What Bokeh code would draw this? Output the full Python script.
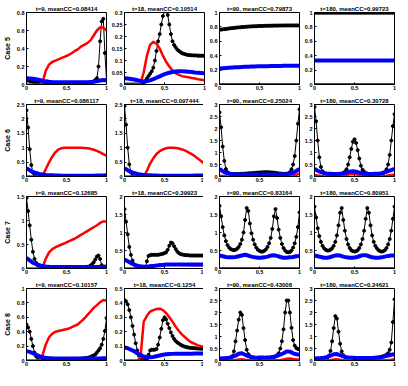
import numpy as np
from bokeh.plotting import figure
from bokeh.layouts import gridplot
from bokeh.models import Range1d, FixedTicker
from bokeh.embed import file_html
from bokeh.resources import INLINE

# sampling grids (black curve has dense markers, red/blue are thick lines)
X_BLACK = np.linspace(0, 1, 51)
X_COLOR = np.linspace(0, 1, 26)

CASES = ["Case 5", "Case 6", "Case 7", "Case 8"]
XTICKS = [0, 0.5, 1]
XTICK_LABELS = ["0", "0.5", "1"]

# ---------------- Case 5 ----------------
c5_t9_title = "t=9, meanCC=0.08414"
c5_t9_k = [0.05, 0.045, 0.04, 0.035, 0.03, 0.025, 0.02, 0.018, 0.015, 0.012, 0.01,
           0.01, 0.01, 0.01, 0.01, 0.01, 0.01, 0.01, 0.01, 0.01, 0.01,
           0.01, 0.01, 0.01, 0.01, 0.01, 0.01, 0.01, 0.01, 0.01, 0.01,
           0.011, 0.012, 0.013, 0.014, 0.015, 0.016, 0.018, 0.02, 0.022, 0.025,
           0.03, 0.035, 0.05, 0.07, 0.2, 0.48, 0.7, 0.73, 0.35, 0.05]
c5_t9_r = [0, 0, 0, 0, 0, 0.02, 0.15, 0.22, 0.25, 0.265, 0.28, 0.295, 0.31, 0.325, 0.345,
           0.37, 0.39, 0.42, 0.44, 0.46, 0.49, 0.545, 0.6, 0.635, 0.63, 0.6]
c5_t9_b = [0.07, 0.068, 0.063, 0.058, 0.05, 0.042, 0.035, 0.03, 0.027, 0.025, 0.024, 0.024, 0.024,
           0.024, 0.024, 0.024, 0.024, 0.024, 0.024, 0.024, 0.026, 0.03, 0.036, 0.045, 0.05, 0.045]
c5_t9_yt = [0, 0.2, 0.4, 0.6, 0.8]
c5_t9_yl = ["0", "0.2", "0.4", "0.6", "0.8"]

c5_t18_title = "t=18, meanCC=0.10514"
c5_t18_k = [0, 0, 0, 0, 0, 0, 0, 0, 0, 0, 0,
            0.003, 0.008, 0.015, 0.025, 0.035, 0.045, 0.055, 0.07, 0.1, 0.14,
            0.18, 0.21, 0.25, 0.285, 0.305, 0.31, 0.29, 0.25, 0.21, 0.18,
            0.165, 0.155, 0.145, 0.14, 0.135, 0.13, 0.128, 0.126, 0.124, 0.123,
            0.122, 0.122, 0.121, 0.121, 0.121, 0.12, 0.12, 0.12, 0.12, 0.12]
c5_t18_r = [0, 0, 0, 0, 0, 0.005, 0.05, 0.12, 0.165, 0.178, 0.17, 0.15, 0.12, 0.095, 0.075,
            0.058, 0.047, 0.04, 0.035, 0.032, 0.03, 0.027, 0.025, 0.022, 0.02, 0.018]
c5_t18_b = [0.026, 0.025, 0.023, 0.021, 0.018, 0.015, 0.013, 0.014, 0.017, 0.022, 0.028, 0.034, 0.04,
            0.045, 0.049, 0.052, 0.054, 0.055, 0.055, 0.054, 0.053, 0.052, 0.05, 0.049, 0.048, 0.047]
c5_t18_yt = [0, 0.05, 0.1, 0.15, 0.2, 0.25, 0.3]
c5_t18_yl = ["0", "0.05", "0.1", "0.15", "0.2", "0.25", "0.3"]

c5_t90_title = "t=90, meanCC=0.79873"
c5_t90_k = [0.76, 0.763, 0.766, 0.769, 0.772, 0.775, 0.778, 0.781, 0.784, 0.786,
            0.789, 0.791, 0.793, 0.795, 0.797, 0.799, 0.801, 0.803, 0.804, 0.806,
            0.807, 0.808, 0.809, 0.81, 0.811, 0.812, 0.813, 0.814, 0.815, 0.815,
            0.816, 0.816, 0.817, 0.817, 0.818, 0.818, 0.818, 0.819, 0.819, 0.819,
            0.82, 0.82, 0.82, 0.82, 0.82, 0.82, 0.82, 0.82, 0.82, 0.82, 0.82]
c5_t90_r = [0.004, 0.004, 0.004, 0.004, 0.004, 0.004, 0.004, 0.004, 0.004, 0.004, 0.004, 0.004, 0.004,
            0.004, 0.004, 0.004, 0.004, 0.004, 0.004, 0.004, 0.004, 0.004, 0.004, 0.004, 0.004, 0.004]
c5_t90_b = [0.222, 0.226, 0.23, 0.233, 0.236, 0.239, 0.241, 0.243, 0.245, 0.247, 0.249, 0.25, 0.252,
            0.253, 0.254, 0.255, 0.256, 0.257, 0.258, 0.258, 0.259, 0.259, 0.26, 0.26, 0.26, 0.26]
c5_t90_yt = [0, 0.2, 0.4, 0.6, 0.8, 1]
c5_t90_yl = ["0", "0.2", "0.4", "0.6", "0.8", "1"]

c5_t180_title = "t=180, meanCC=0.99723"
c5_t180_k = [0.998, 0.998, 0.998, 0.998, 0.998, 0.998, 0.998, 0.998, 0.998, 0.998,
             0.998, 0.998, 0.998, 0.998, 0.998, 0.998, 0.998, 0.998, 0.998, 0.998,
             0.998, 0.998, 0.998, 0.998, 0.998, 0.998, 0.998, 0.998, 0.998, 0.998,
             0.998, 0.998, 0.998, 0.998, 0.998, 0.998, 0.998, 0.998, 0.998, 0.998,
             0.998, 0.998, 0.998, 0.998, 0.998, 0.998, 0.998, 0.998, 0.998, 0.998, 0.998]
c5_t180_r = [0.004, 0.004, 0.004, 0.004, 0.004, 0.004, 0.004, 0.004, 0.004, 0.004, 0.004, 0.004, 0.004,
             0.004, 0.004, 0.004, 0.004, 0.004, 0.004, 0.004, 0.004, 0.004, 0.004, 0.004, 0.004, 0.004]
c5_t180_b = [0.335, 0.335, 0.335, 0.335, 0.335, 0.335, 0.335, 0.335, 0.335, 0.335, 0.335, 0.335, 0.335,
             0.335, 0.335, 0.335, 0.335, 0.335, 0.335, 0.335, 0.335, 0.335, 0.335, 0.335, 0.335, 0.335]
c5_t180_yt = [0, 0.2, 0.4, 0.6, 0.8, 1]
c5_t180_yl = ["0", "0.2", "0.4", "0.6", "0.8", "1"]

# ---------------- Case 6 ----------------
c6_t9_title = "t=9, meanCC=0.086117"
c6_t9_k = [2.3, 1.7, 0.95, 0.4, 0.14, 0.05, 0.02, 0.01, 0.005, 0.003,
           0.003, 0.003, 0.003, 0.003, 0.003, 0.003, 0.003, 0.003, 0.003, 0.003,
           0.003, 0.003, 0.003, 0.003, 0.003, 0.003, 0.003, 0.003, 0.003, 0.003,
           0.003, 0.003, 0.003, 0.003, 0.003, 0.003, 0.003, 0.003, 0.003, 0.003,
           0.003, 0.003, 0.003, 0.003, 0.003, 0.003, 0.003, 0.003, 0.003, 0.003, 0.003]
c6_t9_r = [0, 0, 0, 0, 0, 0.03, 0.25, 0.48, 0.68, 0.84, 0.94, 0.98, 1.0, 1.0, 1.0,
           1.0, 1.0, 1.0, 0.99, 0.98, 0.96, 0.93, 0.89, 0.84, 0.78, 0.72]
c6_t9_b = [0.29, 0.22, 0.16, 0.12, 0.09, 0.07, 0.055, 0.045, 0.04, 0.035, 0.032, 0.03, 0.03,
           0.03, 0.03, 0.03, 0.03, 0.03, 0.03, 0.03, 0.03, 0.03, 0.032, 0.034, 0.037, 0.04]
c6_t9_yt = [0, 0.5, 1, 1.5, 2, 2.5]
c6_t9_yl = ["0", "0.5", "1", "1.5", "2", "2.5"]

c6_t18_title = "t=18, meanCC=0.097444"
c6_t18_k = [2.45, 1.8, 1.0, 0.42, 0.15, 0.05, 0.02, 0.01, 0.005, 0.003,
            0.003, 0.003, 0.003, 0.003, 0.003, 0.003, 0.003, 0.003, 0.003, 0.003,
            0.003, 0.003, 0.003, 0.003, 0.003, 0.003, 0.003, 0.003, 0.003, 0.003,
            0.003, 0.003, 0.003, 0.003, 0.003, 0.003, 0.003, 0.003, 0.003, 0.003,
            0.003, 0.003, 0.003, 0.003, 0.003, 0.003, 0.003, 0.003, 0.003, 0.003, 0.003]
c6_t18_r = [0, 0, 0, 0, 0, 0, 0, 0.2, 0.45, 0.63, 0.78, 0.88, 0.94, 0.98, 1.0,
            1.0, 0.99, 0.97, 0.94, 0.9, 0.84, 0.78, 0.7, 0.62, 0.53, 0.44]
c6_t18_b = [0.29, 0.22, 0.16, 0.12, 0.09, 0.07, 0.055, 0.045, 0.04, 0.035, 0.032, 0.03, 0.03,
            0.03, 0.03, 0.03, 0.03, 0.03, 0.03, 0.03, 0.03, 0.03, 0.032, 0.034, 0.037, 0.04]
c6_t18_yt = [0, 0.5, 1, 1.5, 2, 2.5]
c6_t18_yl = ["0", "0.5", "1", "1.5", "2", "2.5"]

c6_t90_title = "t=90, meanCC=0.25024"
c6_t90_k = [2.68, 2.05, 1.25, 0.65, 0.31, 0.18, 0.13, 0.11, 0.1, 0.1,
            0.1, 0.1, 0.105, 0.11, 0.11, 0.115, 0.12, 0.125, 0.13, 0.135,
            0.14, 0.145, 0.15, 0.155, 0.16, 0.165, 0.17, 0.175, 0.18, 0.18,
            0.18, 0.175, 0.17, 0.165, 0.16, 0.15, 0.14, 0.13, 0.12, 0.115,
            0.11, 0.11, 0.12, 0.13, 0.18, 0.3, 0.5, 0.85, 1.5, 2.2, 2.8]
c6_t90_r = [0.03, 0.02, 0.01, 0.005, 0.003, 0.003, 0.003, 0.003, 0.003, 0.003, 0.003, 0.003, 0.003,
            0.003, 0.003, 0.003, 0.003, 0.003, 0.003, 0.003, 0.003, 0.01, 0.02, 0.04, 0.07, 0.12]
c6_t90_b = [0.32, 0.22, 0.15, 0.12, 0.1, 0.09, 0.085, 0.08, 0.08, 0.08, 0.08, 0.08, 0.08,
            0.08, 0.08, 0.08, 0.08, 0.08, 0.08, 0.085, 0.09, 0.1, 0.12, 0.16, 0.23, 0.32]
c6_t90_yt = [0, 0.5, 1, 1.5, 2, 2.5, 3]
c6_t90_yl = ["0", "0.5", "1", "1.5", "2", "2.5", "3"]

c6_t180_title = "t=180, meanCC=0.30728"
c6_t180_k = [2.9, 2.3, 1.5, 0.8, 0.4, 0.22, 0.15, 0.12, 0.1, 0.1,
             0.1, 0.1, 0.1, 0.1, 0.1, 0.1, 0.11, 0.12, 0.14, 0.2,
             0.3, 0.5, 0.8, 1.15, 1.45, 1.55, 1.4, 1.1, 0.75, 0.45,
             0.28, 0.2, 0.14, 0.12, 0.11, 0.1, 0.1, 0.1, 0.1, 0.1,
             0.1, 0.1, 0.11, 0.13, 0.18, 0.3, 0.5, 0.9, 1.5, 2.1, 2.6]
c6_t180_r = [0.06, 0.04, 0.02, 0.01, 0.005, 0.003, 0.003, 0.005, 0.01, 0.03, 0.06, 0.09, 0.1,
             0.09, 0.06, 0.03, 0.01, 0.005, 0.003, 0.003, 0.005, 0.01, 0.02, 0.04, 0.06, 0.08]
c6_t180_b = [0.32, 0.24, 0.18, 0.14, 0.12, 0.11, 0.1, 0.1, 0.11, 0.13, 0.16, 0.2, 0.22,
             0.2, 0.16, 0.13, 0.11, 0.1, 0.1, 0.11, 0.12, 0.14, 0.18, 0.22, 0.27, 0.32]
c6_t180_yt = [0, 0.5, 1, 1.5, 2, 2.5, 3]
c6_t180_yl = ["0", "0.5", "1", "1.5", "2", "2.5", "3"]

# ---------------- Case 7 ----------------
c7_t9_title = "t=9, meanCC=0.12685"
c7_t9_k = [1.47, 1.2, 0.9, 0.6, 0.35, 0.2, 0.12, 0.07, 0.045, 0.03,
           0.022, 0.02, 0.018, 0.017, 0.016, 0.015, 0.015, 0.015, 0.015, 0.015,
           0.015, 0.015, 0.015, 0.015, 0.015, 0.015, 0.015, 0.015, 0.015, 0.016,
           0.017, 0.018, 0.019, 0.02, 0.022, 0.024, 0.027, 0.03, 0.035, 0.04,
           0.06, 0.09, 0.13, 0.19, 0.25, 0.27, 0.2, 0.07, 0.02, 0.01, 0.01]
c7_t9_r = [0, 0, 0, 0, 0, 0.02, 0.2, 0.33, 0.4, 0.44, 0.47, 0.5, 0.53, 0.56, 0.59,
           0.62, 0.66, 0.7, 0.74, 0.78, 0.82, 0.86, 0.9, 0.95, 0.98, 0.98]
c7_t9_b = [0.22, 0.17, 0.12, 0.09, 0.07, 0.05, 0.04, 0.035, 0.032, 0.03, 0.03, 0.03, 0.03,
           0.03, 0.03, 0.03, 0.03, 0.03, 0.03, 0.03, 0.03, 0.03, 0.03, 0.032, 0.035, 0.04]
c7_t9_yt = [0, 0.5, 1, 1.5]
c7_t9_yl = ["0", "0.5", "1", "1.5"]

c7_t18_title = "t=18, meanCC=0.39923"
c7_t18_k = [1.65, 1.3, 0.95, 0.6, 0.38, 0.22, 0.12, 0.06, 0.03, 0.01,
            0.005, 0.003, 0.003, 0.005, 0.2, 0.35, 0.37, 0.38, 0.38, 0.38,
            0.38, 0.38, 0.39, 0.4, 0.41, 0.43, 0.45, 0.52, 0.63, 0.72,
            0.7, 0.62, 0.54, 0.47, 0.43, 0.4, 0.39, 0.38, 0.37, 0.37,
            0.37, 0.36, 0.36, 0.36, 0.36, 0.36, 0.36, 0.36, 0.36, 0.36, 0.36]
c7_t18_r = [0, 0, 0, 0, 0, 0, 0, 0.03, 0.07, 0.09, 0.1, 0.11, 0.12,
            0.12, 0.12, 0.12, 0.11, 0.11, 0.1, 0.1, 0.1, 0.09, 0.09, 0.09, 0.09, 0.09]
c7_t18_b = [0.25, 0.2, 0.15, 0.11, 0.08, 0.06, 0.05, 0.05, 0.06, 0.07, 0.08, 0.09, 0.1,
            0.11, 0.11, 0.11, 0.11, 0.11, 0.11, 0.11, 0.11, 0.11, 0.11, 0.11, 0.11, 0.11]
c7_t18_yt = [0, 0.5, 1, 1.5, 2]
c7_t18_yl = ["0", "0.5", "1", "1.5", "2"]

c7_t90_title = "t=90, meanCC=0.83164"
c7_t90_k = [1.74, 1.45, 1.15, 0.92, 0.76, 0.65, 0.58, 0.54, 0.52, 0.51,
            0.52, 0.55, 0.6, 0.68, 0.8, 1.0, 1.35, 1.68, 1.6, 1.25,
            0.98, 0.8, 0.67, 0.58, 0.52, 0.49, 0.47, 0.47, 0.49, 0.53,
            0.6, 0.7, 0.85, 1.1, 1.45, 1.65, 1.4, 1.08, 0.85, 0.68,
            0.57, 0.5, 0.46, 0.45, 0.46, 0.5, 0.58, 0.7, 0.88, 1.15, 1.56]
c7_t90_r = [0.008, 0.008, 0.008, 0.008, 0.008, 0.008, 0.008, 0.008, 0.008, 0.008, 0.008, 0.008, 0.008,
            0.008, 0.008, 0.008, 0.008, 0.008, 0.008, 0.008, 0.008, 0.008, 0.008, 0.008, 0.008, 0.008]
c7_t90_b = [0.36, 0.34, 0.32, 0.31, 0.31, 0.32, 0.34, 0.36, 0.38, 0.36, 0.33, 0.31, 0.3,
            0.3, 0.31, 0.33, 0.36, 0.37, 0.35, 0.32, 0.3, 0.3, 0.31, 0.32, 0.34, 0.35]
c7_t90_yt = [0, 0.5, 1, 1.5, 2]
c7_t90_yl = ["0", "0.5", "1", "1.5", "2"]

c7_t180_title = "t=180, meanCC=0.80951"
c7_t180_k = [1.72, 1.42, 1.12, 0.9, 0.74, 0.63, 0.56, 0.52, 0.5, 0.5,
             0.52, 0.56, 0.63, 0.74, 0.92, 1.2, 1.55, 1.68, 1.35, 1.05,
             0.82, 0.67, 0.57, 0.51, 0.48, 0.47, 0.48, 0.51, 0.57, 0.67,
             0.82, 1.05, 1.38, 1.68, 1.55, 1.2, 0.92, 0.74, 0.63, 0.56,
             0.51, 0.48, 0.47, 0.48, 0.51, 0.57, 0.67, 0.82, 1.05, 1.38, 1.72]
c7_t180_r = [0.008, 0.008, 0.008, 0.008, 0.008, 0.008, 0.008, 0.008, 0.008, 0.008, 0.008, 0.008, 0.008,
             0.008, 0.008, 0.008, 0.008, 0.008, 0.008, 0.008, 0.008, 0.008, 0.008, 0.008, 0.008, 0.008]
c7_t180_b = [0.36, 0.34, 0.32, 0.3, 0.3, 0.32, 0.35, 0.37, 0.36, 0.33, 0.31, 0.3, 0.3,
             0.31, 0.34, 0.37, 0.37, 0.34, 0.31, 0.3, 0.3, 0.31, 0.33, 0.35, 0.36, 0.36]
c7_t180_yt = [0, 0.5, 1, 1.5, 2]
c7_t180_yl = ["0", "0.5", "1", "1.5", "2"]

# ---------------- Case 8 ----------------
c8_t9_title = "t=9, meanCC=0.10157"
c8_t9_k = [0.5, 0.46, 0.4, 0.3, 0.2, 0.11, 0.06, 0.035, 0.025, 0.02,
           0.018, 0.017, 0.016, 0.015, 0.015, 0.015, 0.015, 0.015, 0.015, 0.015,
           0.015, 0.015, 0.015, 0.015, 0.015, 0.015, 0.016, 0.017, 0.018, 0.019,
           0.02, 0.021, 0.022, 0.024, 0.026, 0.028, 0.03, 0.033, 0.037, 0.042,
           0.05, 0.06, 0.07, 0.085, 0.11, 0.14, 0.17, 0.22, 0.3, 0.41, 0.59]
c8_t9_r = [0, 0, 0, 0, 0, 0.07, 0.22, 0.32, 0.37, 0.4, 0.41, 0.42, 0.43, 0.44, 0.46,
           0.48, 0.5, 0.54, 0.58, 0.63, 0.68, 0.73, 0.77, 0.81, 0.84, 0.83]
c8_t9_b = [0.13, 0.12, 0.1, 0.08, 0.06, 0.045, 0.038, 0.033, 0.03, 0.029, 0.028, 0.028, 0.028,
           0.028, 0.028, 0.028, 0.028, 0.028, 0.028, 0.028, 0.028, 0.028, 0.028, 0.029, 0.03, 0.03]
c8_t9_yt = [0, 0.2, 0.4, 0.6, 0.8, 1]
c8_t9_yl = ["0", "0.2", "0.4", "0.6", "0.8", "1"]

c8_t18_title = "t=18, meanCC=0.1254"
c8_t18_k = [0.42, 0.41, 0.39, 0.35, 0.3, 0.24, 0.18, 0.12, 0.07, 0.035,
            0.015, 0.008, 0.005, 0.005, 0.01, 0.04, 0.07, 0.075, 0.075, 0.075,
            0.08, 0.11, 0.16, 0.22, 0.28, 0.3, 0.285, 0.255, 0.225, 0.195,
            0.17, 0.15, 0.135, 0.125, 0.118, 0.11, 0.104, 0.099, 0.095, 0.092,
            0.09, 0.088, 0.087, 0.086, 0.085, 0.084, 0.083, 0.083, 0.082, 0.082, 0.082]
c8_t18_r = [0, 0, 0, 0, 0, 0.02, 0.27, 0.31, 0.34, 0.35, 0.357, 0.36, 0.35, 0.33, 0.3,
            0.27, 0.235, 0.205, 0.18, 0.16, 0.14, 0.125, 0.115, 0.105, 0.1, 0.095]
c8_t18_b = [0.09, 0.085, 0.075, 0.065, 0.05, 0.038, 0.028, 0.022, 0.022, 0.025, 0.03, 0.035, 0.04,
            0.043, 0.045, 0.046, 0.047, 0.047, 0.047, 0.047, 0.047, 0.047, 0.048, 0.048, 0.048, 0.048]
c8_t18_yt = [0, 0.1, 0.2, 0.3, 0.4, 0.5]
c8_t18_yl = ["0", "0.1", "0.2", "0.3", "0.4", "0.5"]

c8_t90_title = "t=90, meanCC=0.43008"
c8_t90_k = [0.05, 0.05, 0.055, 0.06, 0.065, 0.07, 0.08, 0.1, 0.18, 0.38,
            0.8, 1.25, 1.7, 2.0, 1.9, 1.35, 0.85, 0.45, 0.26, 0.17,
            0.13, 0.11, 0.1, 0.09, 0.09, 0.085, 0.085, 0.085, 0.085, 0.09,
            0.09, 0.1, 0.11, 0.12, 0.14, 0.17, 0.22, 0.3, 0.5, 0.8,
            1.3, 2.0, 2.5, 2.5, 2.0, 1.36, 0.85, 0.62, 0.52, 0.48, 0.46]
c8_t90_r = [0.005, 0.005, 0.005, 0.008, 0.01, 0.02, 0.04, 0.05, 0.03, 0.015, 0.01, 0.008, 0.008,
            0.008, 0.008, 0.008, 0.01, 0.012, 0.015, 0.02, 0.04, 0.07, 0.08, 0.06, 0.05, 0.045]
c8_t90_b = [0.08, 0.09, 0.1, 0.12, 0.15, 0.2, 0.28, 0.3, 0.24, 0.18, 0.15, 0.13, 0.12,
            0.12, 0.12, 0.13, 0.14, 0.16, 0.19, 0.24, 0.3, 0.38, 0.37, 0.3, 0.26, 0.24]
c8_t90_yt = [0, 0.5, 1, 1.5, 2, 2.5, 3]
c8_t90_yl = ["0", "0.5", "1", "1.5", "2", "2.5", "3"]

c8_t180_title = "t=180, meanCC=0.24621"
c8_t180_k = [0.05, 0.05, 0.055, 0.06, 0.065, 0.07, 0.08, 0.1, 0.12, 0.2,
             0.4, 0.8, 1.35, 1.85, 1.75, 1.2, 0.7, 0.38, 0.22, 0.15,
             0.12, 0.1, 0.09, 0.09, 0.085, 0.085, 0.085, 0.085, 0.085, 0.085,
             0.085, 0.085, 0.085, 0.09, 0.09, 0.09, 0.1, 0.1, 0.11, 0.12,
             0.13, 0.14, 0.16, 0.18, 0.2, 0.24, 0.3, 0.45, 0.75, 1.6, 2.55]
c8_t180_r = [0.005, 0.005, 0.005, 0.008, 0.01, 0.02, 0.04, 0.05, 0.03, 0.015, 0.01, 0.008, 0.008,
             0.008, 0.008, 0.008, 0.008, 0.008, 0.008, 0.008, 0.01, 0.012, 0.015, 0.02, 0.03, 0.05]
c8_t180_b = [0.08, 0.09, 0.1, 0.12, 0.15, 0.2, 0.26, 0.27, 0.22, 0.17, 0.14, 0.12, 0.11,
             0.1, 0.1, 0.1, 0.1, 0.1, 0.1, 0.11, 0.12, 0.14, 0.17, 0.21, 0.24, 0.26]
c8_t180_yt = [0, 0.5, 1, 1.5, 2, 2.5, 3]
c8_t180_yl = ["0", "0.5", "1", "1.5", "2", "2.5", "3"]

PANELS = [
    [(c5_t9_title, c5_t9_k, c5_t9_r, c5_t9_b, c5_t9_yt, c5_t9_yl),
     (c5_t18_title, c5_t18_k, c5_t18_r, c5_t18_b, c5_t18_yt, c5_t18_yl),
     (c5_t90_title, c5_t90_k, c5_t90_r, c5_t90_b, c5_t90_yt, c5_t90_yl),
     (c5_t180_title, c5_t180_k, c5_t180_r, c5_t180_b, c5_t180_yt, c5_t180_yl)],
    [(c6_t9_title, c6_t9_k, c6_t9_r, c6_t9_b, c6_t9_yt, c6_t9_yl),
     (c6_t18_title, c6_t18_k, c6_t18_r, c6_t18_b, c6_t18_yt, c6_t18_yl),
     (c6_t90_title, c6_t90_k, c6_t90_r, c6_t90_b, c6_t90_yt, c6_t90_yl),
     (c6_t180_title, c6_t180_k, c6_t180_r, c6_t180_b, c6_t180_yt, c6_t180_yl)],
    [(c7_t9_title, c7_t9_k, c7_t9_r, c7_t9_b, c7_t9_yt, c7_t9_yl),
     (c7_t18_title, c7_t18_k, c7_t18_r, c7_t18_b, c7_t18_yt, c7_t18_yl),
     (c7_t90_title, c7_t90_k, c7_t90_r, c7_t90_b, c7_t90_yt, c7_t90_yl),
     (c7_t180_title, c7_t180_k, c7_t180_r, c7_t180_b, c7_t180_yt, c7_t180_yl)],
    [(c8_t9_title, c8_t9_k, c8_t9_r, c8_t9_b, c8_t9_yt, c8_t9_yl),
     (c8_t18_title, c8_t18_k, c8_t18_r, c8_t18_b, c8_t18_yt, c8_t18_yl),
     (c8_t90_title, c8_t90_k, c8_t90_r, c8_t90_b, c8_t90_yt, c8_t90_yl),
     (c8_t180_title, c8_t180_k, c8_t180_r, c8_t180_b, c8_t180_yt, c8_t180_yl)],
]

FONT = "Liberation Sans"
FW, FH = 80, 72


def make_panel(r, c, spec):
    title, k, red, blue, yt, yl = spec
    p = figure(frame_width=FW, frame_height=FH,
               x_range=Range1d(0, 1), y_range=Range1d(0, yt[-1]),
               output_backend="svg", toolbar_location=None,
               min_border_left=25 if c == 0 else 13, min_border_right=2,
               min_border_top=12, min_border_bottom=8,
               background_fill_color="white", border_fill_color="white")
    p.title.text = title
    p.title.align = "center"
    p.title.text_font = FONT
    p.title.text_font_size = "6px"
    p.title.text_font_style = "bold"
    p.title.text_color = "black"
    p.title.standoff = 2
    p.title.offset = 0
    p.xgrid.visible = False
    p.ygrid.visible = False
    p.outline_line_color = "black"
    p.outline_line_width = 1
    p.outline_line_alpha = 1

    p.xaxis.ticker = FixedTicker(ticks=XTICKS)
    p.xaxis.major_label_overrides = dict(zip(XTICKS, XTICK_LABELS))
    p.yaxis.ticker = FixedTicker(ticks=yt)
    p.yaxis.major_label_overrides = dict(zip(yt, yl))
    for ax in (p.xaxis[0], p.yaxis[0]):
        ax.major_tick_in = 2
        ax.major_tick_out = 0
        ax.minor_tick_line_color = None
        ax.axis_line_color = "black"
        ax.major_tick_line_color = "black"
        ax.major_label_text_font = FONT
        ax.major_label_text_font_size = "5.5px"
        ax.major_label_text_font_style = "bold"
        ax.major_label_text_color = "black"
        ax.major_label_standoff = 2
    p.xaxis.major_label_standoff = 1
    if c == 0:
        p.yaxis.axis_label = CASES[r]
        p.yaxis.axis_label_text_font = FONT
        p.yaxis.axis_label_text_font_size = "7px"
        p.yaxis.axis_label_text_font_style = "bold"
        p.yaxis.axis_label_text_color = "black"
        p.yaxis.axis_label_standoff = 3

    p.line(X_BLACK, k, line_color="black", line_width=1)
    p.scatter(X_BLACK, k, marker="circle", size=3, fill_color="black", line_color="black")
    p.line(X_COLOR, red, line_color="#ff0000", line_width=2.5, line_join="round")
    p.line(X_COLOR, blue, line_color="#0000ff", line_width=4, line_join="round")
    return p


rows = [[make_panel(r, c, PANELS[r][c]) for c in range(4)] for r in range(4)]
grid = gridplot(rows, toolbar_location=None)

open("out.html", "w").write(file_html(grid, INLINE))
